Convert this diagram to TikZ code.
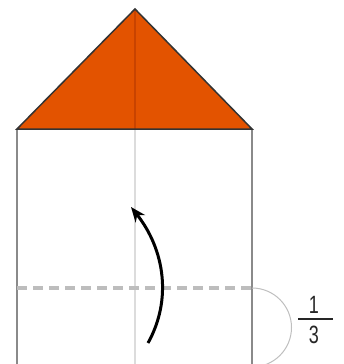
\documentclass[tikz,border=0pt]{standalone}
\usepackage{fontspec}
\setmainfont{Liberation Sans}
\usetikzlibrary{arrows.meta}
\definecolor{paperorange}{HTML}{E35300}
\definecolor{creaseorange}{HTML}{C84300}
\definecolor{edgegray}{HTML}{8A8A8A}
\definecolor{creasegray}{HTML}{DCDCDC}
\definecolor{dashgray}{HTML}{BDBDBD}
\tikzset{
  paperedge/.style={draw=edgegray, line width=1.8pt},
  crease/.style={draw=creasegray, line width=2.6pt},
  valley/.style={draw=dashgray, line width=3.2pt, dash pattern=on 10pt off 6pt},
  measure/.style={draw=black!25, line width=1pt},
  digit/.style={font=\fontsize{25}{25}\selectfont, inner sep=0pt, text=black!85, xscale=0.72},
  foldarrow/.style={draw=black, line width=3pt, -{Stealth[length=15pt,width=12pt]}}
}
\begin{document}
\begin{tikzpicture}[x=1pt,y=-1pt]
\useasboundingbox (0,0) rectangle (343,364);
% rectangle part
\coordinate (tl) at (17,129);
\coordinate (tr) at (252,129);
\coordinate (bl) at (17,368);
\coordinate (br) at (252,368);
\draw[paperedge] (bl) -- (tl);
\draw[paperedge] (br) -- (tr);
% center crease
\coordinate (ctop) at (135,129);
\coordinate (cbot) at (135,368);
\draw[crease] (ctop) -- (cbot);
% triangle
\coordinate (apex) at (135,9);
\fill[paperorange] (tl) -- (apex) -- (tr) -- cycle;
\draw[creaseorange, line width=2.6pt] (apex) -- (ctop);
\draw[black!80, line width=1.5pt, line join=miter] (tl) -- (apex) -- (tr) -- cycle;
% valley fold line
\coordinate (dl) at (17,288);
\coordinate (dr) at (252,288);
\draw[valley] (dl) -- (dr);
% measure arc
\draw[measure] (dr) arc[start angle=-90, end angle=90, radius=39.5];
% fraction
\node[digit] (one) at (314,304.5) {1};
\node[digit] (three) at (314,335) {3};
\coordinate (fl) at (298,319);
\coordinate (fr) at (333,319);
\draw[black!85, line width=2pt] (fl) -- (fr);
% fold arrow
\coordinate (as) at (148,343);
\coordinate (ae) at (131,207);
\draw[foldarrow] (as) .. controls (172,300) and (165,250) .. (ae);
\end{tikzpicture}
\end{document}
